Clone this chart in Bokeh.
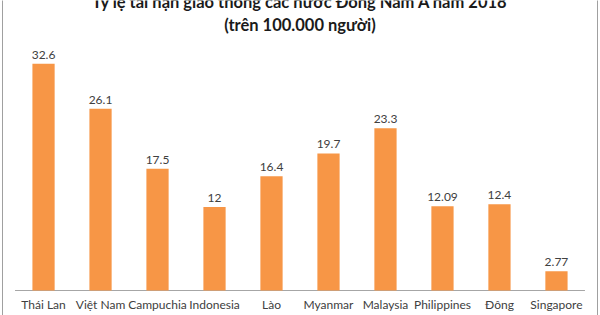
from bokeh.plotting import figure
from bokeh.models import (ColumnDataSource, Range1d, FactorRange, Label, LabelSet,
                          LinearAxis, FixedTicker)
from bokeh.core.properties import value
from bokeh.embed import file_html
from bokeh.resources import INLINE

countries = ["Thái Lan", "Việt Nam", "Campuchia", "Indonesia", "Lào", "Myanmar",
             "Malaysia", "Philippines", "Đông", "Singapore"]
values = [32.6, 26.1, 17.5, 12, 16.4, 19.7, 23.3, 12.09, 12.4, 2.77]
value_labels = ["32.6", "26.1", "17.5", "12", "16.4", "19.7", "23.3", "12.09", "12.4", "2.77"]
title_line1 = "Tỷ lệ tai nạn giao thông các nước Đông Nam Á năm 2018"
title_line2 = "(trên 100.000 người)"

src = ColumnDataSource(dict(x=countries, top=values, lab=value_labels,
                            base=[0] * len(countries)))

xr = FactorRange(*countries, range_padding=0.22, range_padding_units="absolute")
p = figure(width=600, height=315, x_range=xr, y_range=Range1d(-3.59, 41.67),
           output_backend="svg", toolbar_location=None,
           min_border_left=2, min_border_right=3, min_border_top=0, min_border_bottom=0)
p.background_fill_color = "white"
p.border_fill_color = "white"
p.outline_line_color = None
p.grid.visible = False
p.xaxis.visible = False
p.yaxis.visible = False

# frame border lines (left / right)
for side in ("left", "right"):
    ax = LinearAxis(ticker=FixedTicker(ticks=[]), axis_line_color="#a0a0a0",
                    major_tick_line_color=None, minor_tick_line_color=None)
    p.add_layout(ax, side)

# baseline
p.segment(x0=[0], y0=[0], x1=[len(countries)], y1=[0], line_color="#A6A6A6", line_width=1)

p.vbar(x="x", top="top", width=0.39, source=src, color="#F79646", line_color=None)

p.add_layout(LabelSet(x="x", y="top", text="lab", source=src, text_align="center",
                      text_baseline="bottom", y_offset=5, text_font=value("Lato"),
                      text_font_size="12px", text_color="#404040"))
p.add_layout(LabelSet(x="x", y="base", text="x", source=src, text_align="center",
                      text_baseline="middle", y_offset=-14, text_font=value("Lato"),
                      text_font_size="12px", text_color="#404040"))

p.add_layout(Label(x=5.0, y=41.5, text=title_line1, text_align="center", text_baseline="middle",
                   text_font="Lato", text_font_style="bold", text_font_size="16.5px",
                   text_color="#1a1a1a"))
p.add_layout(Label(x=5.0, y=38.1, text=title_line2, text_align="center", text_baseline="middle",
                   text_font="Lato", text_font_style="bold", text_font_size="16.5px",
                   text_color="#1a1a1a"))

open("out.html", "w").write(file_html(p, INLINE))
